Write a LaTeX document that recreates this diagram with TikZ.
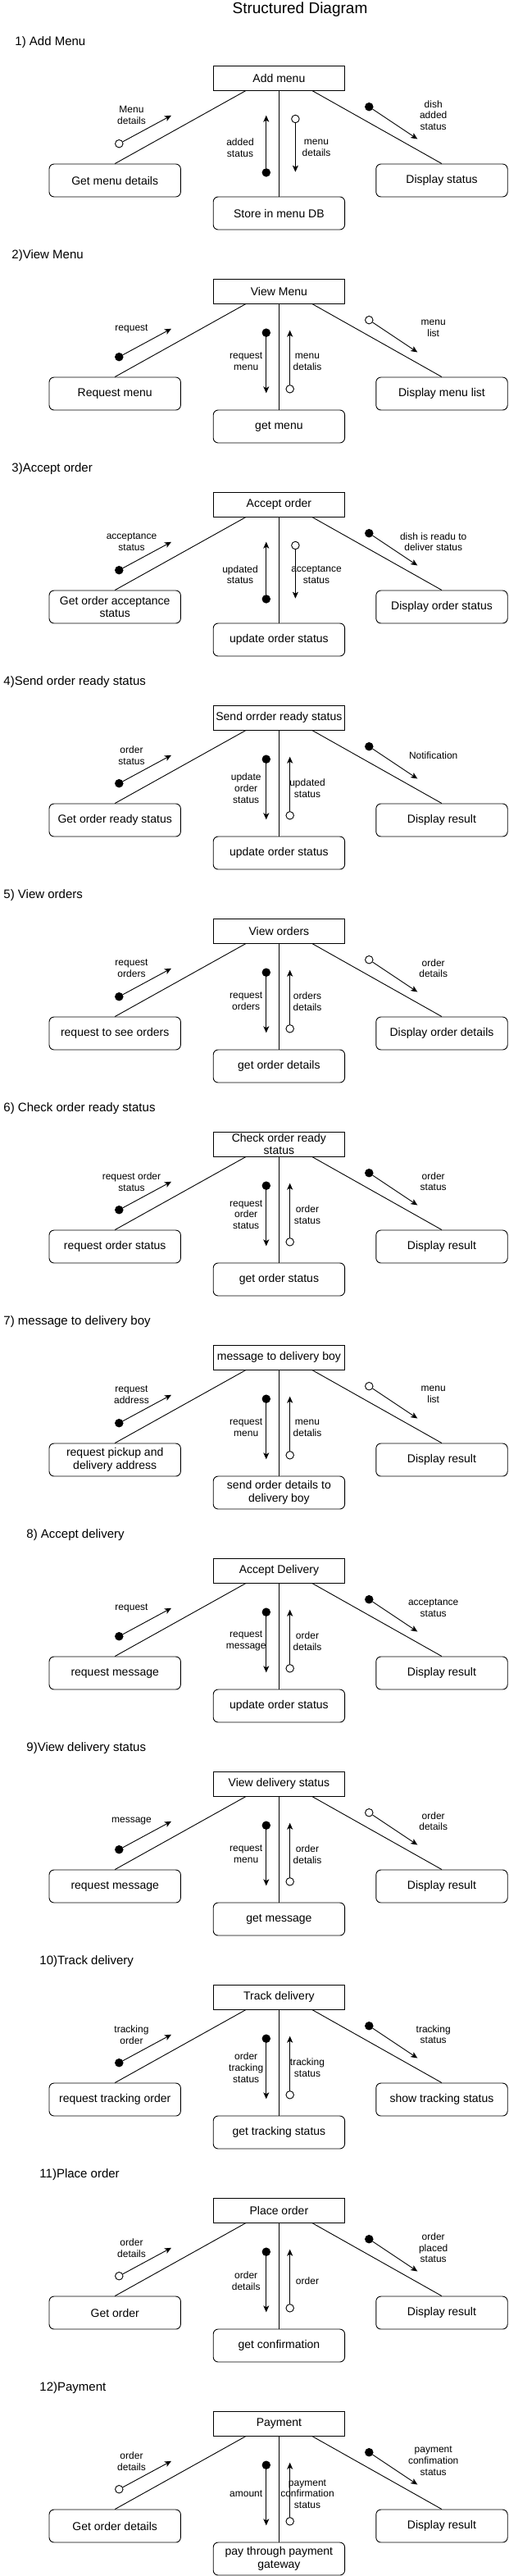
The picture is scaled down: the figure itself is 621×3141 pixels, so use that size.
\documentclass[tikz,border=0pt]{standalone}
\usepackage{fontspec}
\setmainfont{Liberation Sans}
\usetikzlibrary{arrows.meta,calc}

\begin{document}
\begin{tikzpicture}[x=1pt, y=-1pt, line width=0.9pt,
    usecase/.style={draw, minimum width=160.4pt, minimum height=30pt, inner sep=2pt, align=center, font=\fontsize{14}{15.7}\selectfont},
    proc/.style={usecase, rounded corners=6pt, minimum height=40pt},
    lab/.style={align=center, inner sep=0pt, font=\fontsize{12}{13.8}\selectfont},
    dot/.style={circle, draw, inner sep=0pt, minimum size=9.5pt},
    msg/.style={-{Stealth[length=8pt, width=7pt, inset=2pt]}}]
  \useasboundingbox (0,0) rectangle (621,3141);
  \node[anchor=base, font=\fontsize{19}{23}\selectfont] (title) at (366,16.5) {Structured Diagram};
  \foreach \k/\hx/\head/\mtxt/\ltxt/\rtxt/\btxt/\lf/\llab/\up/\mla/\mlb/\rf/\rlab in {
      1/18/{1) Add Menu}/{Add menu}/{Get menu details}/{Display status}/{Store in menu DB}/white/{Menu\\details}/1/{added\\status}/{menu\\details}/black/{dish\\added\\status},
      2/14/{2)View Menu}/{View Menu}/{Request menu}/{Display menu list}/{get menu}/black/{request}/0/{request\\menu}/{menu\\detalis}/white/{menu\\list},
      3/14/{3)Accept order}/{Accept order}/{Get order acceptance\\status}/{Display order status}/{update order status}/black/{acceptance\\status}/1/{updated\\status}/{acceptance\\status}/black/{dish is readu to\\deliver status},
      4/4/{4)Send order ready status}/{Send orrder ready status}/{Get order ready status}/{Display result}/{update order status}/black/{order\\status}/0/{update\\order\\status}/{updated\\status}/black/{Notification},
      5/4/{5) View orders}/{View orders}/{request to see orders}/{Display order details}/{get order details}/black/{request\\orders}/0/{request\\orders}/{orders\\details}/white/{order\\details},
      6/4/{6) Check order ready status}/{Check order ready\\status}/{request order status}/{Display result}/{get order status}/black/{request order\\status}/0/{request\\order\\status}/{order\\status}/black/{order\\status},
      7/4/{7) message to delivery boy}/{message to delivery boy}/{request pickup and\\delivery address}/{Display result}/{send order details to\\delivery boy}/black/{request\\address}/0/{request\\menu}/{menu\\detalis}/white/{menu\\list},
      8/32/{8) Accept delivery}/{Accept Delivery}/{request message}/{Display result}/{update order status}/black/{request}/0/{request\\message}/{order\\details}/black/{acceptance\\status},
      9/32/{9)View delivery status}/{View delivery status}/{request message}/{Display result}/{get message}/black/{message}/0/{request\\menu}/{order\\detalis}/white/{order\\details},
      10/48/{10)Track delivery}/{Track delivery}/{request tracking order}/{show tracking status}/{get tracking status}/black/{tracking\\order}/0/{order\\tracking\\status}/{tracking\\status}/black/{tracking\\status},
      11/48/{11)Place order}/{Place order}/{Get order}/{Display result}/{get confirmation}/white/{order\\details}/0/{order\\details}/{order}/black/{order\\placed\\status},
      12/48/{12)Payment}/{Payment}/{Get order details}/{Display result}/{pay through payment\\gateway}/white/{order\\details}/0/{amount}/{payment\\confirmation\\status}/black/{payment\\confimation\\status}} {
    \pgfmathsetmacro\T{80+260*(\k-1)}
    \node[anchor=base west, inner sep=0pt, font=\fontsize{15}{18}\selectfont] (head\k) at (\hx,\T-24.3) {\head};
    \node[usecase] (top\k) at (340.4,\T+15) {\mtxt};
    \node[proc] (lft\k) at (140.2,\T+140) {\ltxt};
    \node[proc] (rgt\k) at (539,\T+140) {\rtxt};
    \node[proc] (bot\k) at (340.4,\T+180) {\btxt};
    \draw ($(top\k.south west)!.5!(top\k.south)$) -- (lft\k.north);
    \draw ($(top\k.south)!.5!(top\k.south east)$) -- (rgt\k.north);
    \draw (top\k) -- (bot\k);
    % messages on the links
    \node[dot, fill=\lf] (ld\k) at (145.3,\T+95.2) {};
    \coordinate (lt\k) at (209,\T+60.8);
    \draw[msg] (ld\k) -- (lt\k);
    \node[lab] (llab\k) at (160.5,\T+60.8) {\llab};
    \node[dot, fill=\rf] (rd\k) at (450.3,\T+50.2) {};
    \coordinate (rt\k) at (509.3,\T+89.5);
    \draw[msg] (rd\k) -- (rt\k);
    \node[lab] (rlab\k) at (528.7,\T+60.7) {\rlab};
    \ifnum\up=1
      \node[dot, fill=black] (mld\k) at (324.8,\T+130.4) {};
      \coordinate (mlt\k) at (324.8,\T+60.7);
      \node[dot, fill=white] (mrd\k) at (360.4,\T+65) {};
      \coordinate (mrt\k) at (360.4,\T+129.7);
      \node[lab] (mla\k) at (293,\T+100.6) {\mla};
      \node[lab] (mlb\k) at (386,\T+100.6) {\mlb};
    \else
      \node[dot, fill=black] (mld\k) at (324.8,\T+65.7) {};
      \coordinate (mlt\k) at (324.8,\T+139.3);
      \node[dot, fill=white] (mrd\k) at (353.7,\T+134.3) {};
      \coordinate (mrt\k) at (353.7,\T+62.7);
      \node[lab] (mla\k) at (300.2,\T+101) {\mla};
      \node[lab] (mlb\k) at (375,\T+101) {\mlb};
    \fi
    \draw[msg] (mld\k) -- (mlt\k);
    \draw[msg] (mrd\k) -- (mrt\k);
  }
\end{tikzpicture}
\end{document}
